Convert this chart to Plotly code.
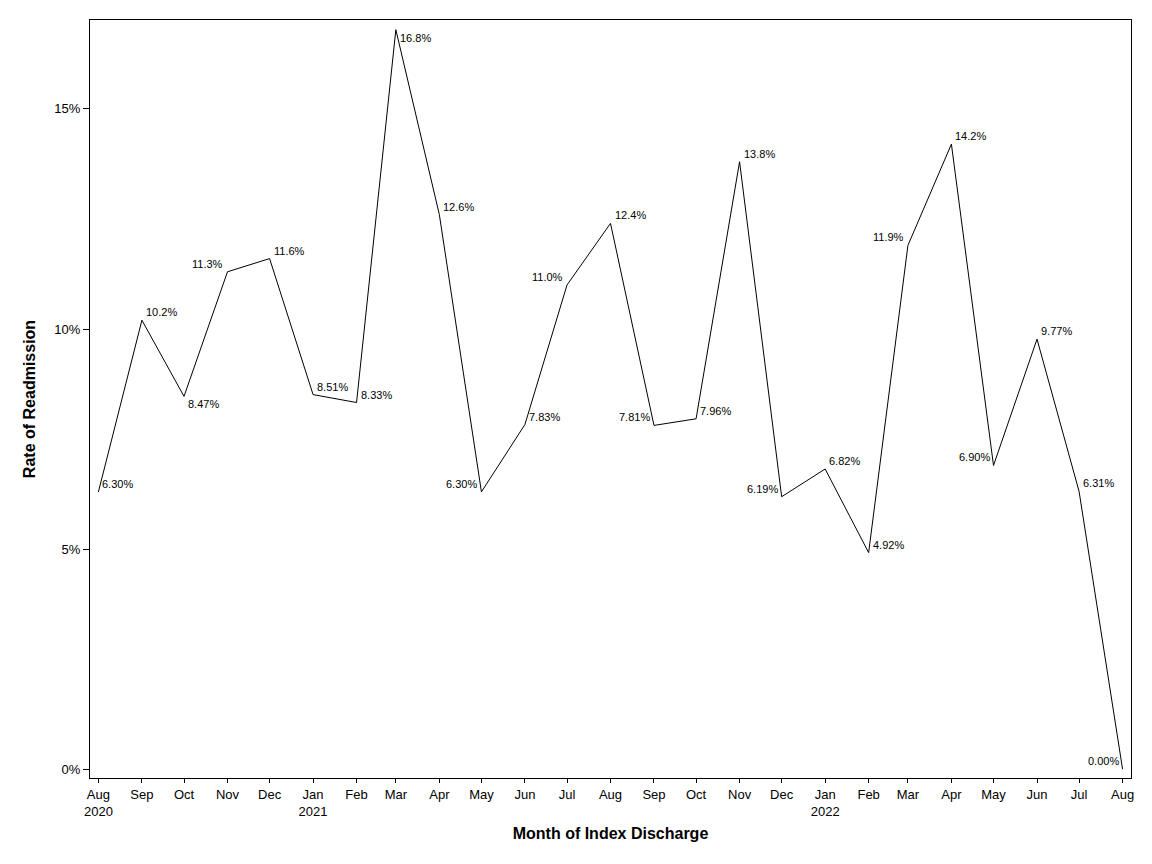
import plotly.graph_objects as go

# monthly readmission rates (%)
months = ["2020-08-01", "2020-09-01", "2020-10-01", "2020-11-01", "2020-12-01",
          "2021-01-01", "2021-02-01", "2021-03-01", "2021-04-01", "2021-05-01",
          "2021-06-01", "2021-07-01", "2021-08-01", "2021-09-01", "2021-10-01",
          "2021-11-01", "2021-12-01", "2022-01-01", "2022-02-01", "2022-03-01",
          "2022-04-01", "2022-05-01", "2022-06-01", "2022-07-01", "2022-08-01"]
tick_labels = ["Aug<br>2020", "Sep", "Oct", "Nov", "Dec", "Jan<br>2021", "Feb", "Mar",
               "Apr", "May", "Jun", "Jul", "Aug", "Sep", "Oct", "Nov", "Dec",
               "Jan<br>2022", "Feb", "Mar", "Apr", "May", "Jun", "Jul", "Aug"]
rates = [6.30, 10.2, 8.47, 11.3, 11.6, 8.51, 8.33, 16.8, 12.6, 6.30,
         7.83, 11.0, 12.4, 7.81, 7.96, 13.8, 6.19, 6.82, 4.92, 11.9,
         14.2, 6.90, 9.77, 6.31, 0.00]
y_ticks = [0, 5, 10, 15]

# where each data label sits relative to its point
label_pos = ["tr", "tr", "br", "tl", "tr", "tr", "tr", "br", "tr", "tl",
             "tr", "tl", "tr", "tl", "tr", "tr", "tl", "tr", "tr", "tl",
             "tr", "tl", "tr", "tr", "tl"]

FONT = "Liberation Sans, Arial, sans-serif"

fig = go.Figure(go.Scatter(
    x=months, y=rates, mode="lines",
    line=dict(color="black", width=1),
    hoverinfo="skip", showlegend=False
))

for m, v, p in zip(months, rates, label_pos):
    fig.add_annotation(
        x=m, y=v, text=f"{v:#.3g}%", showarrow=False,
        xanchor="left" if p[1] == "r" else "right",
        yanchor="middle",
        xshift=2 if p[1] == "r" else -2,
        yshift=8 if p[0] == "t" else -8,
        font=dict(family=FONT, size=11, color="black")
    )

# page body adds an 8px offset, so margins are trimmed on top/left
fig.update_layout(
    width=1152, height=864,
    autosize=False,
    margin=dict(l=82, r=29, t=12, b=94),
    paper_bgcolor="white",
    plot_bgcolor="white",
    font=dict(family=FONT, size=13, color="black"),
    xaxis=dict(
        range=["2020-07-26", "2022-08-07"],
        tickvals=months, ticktext=tick_labels,
        ticks="outside", ticklen=4, tickcolor="black",
        showline=True, linecolor="black", linewidth=1, mirror=True,
        showgrid=False, zeroline=False,
        title=dict(text="<b>Month of Index Discharge</b>", font=dict(size=16), standoff=10),
        tickfont=dict(size=13)
    ),
    yaxis=dict(
        range=[-0.2, 17.02],
        tickvals=y_ticks, ticktext=[f"{t}%" for t in y_ticks],
        ticks="outside", ticklen=6, tickcolor="black",
        showline=True, linecolor="black", linewidth=1, mirror=True,
        showgrid=False, zeroline=False,
        title=dict(text="<b>Rate of Readmission</b>", font=dict(size=16), standoff=14),
        tickfont=dict(size=13)
    )
)

fig.write_html("out.html")
